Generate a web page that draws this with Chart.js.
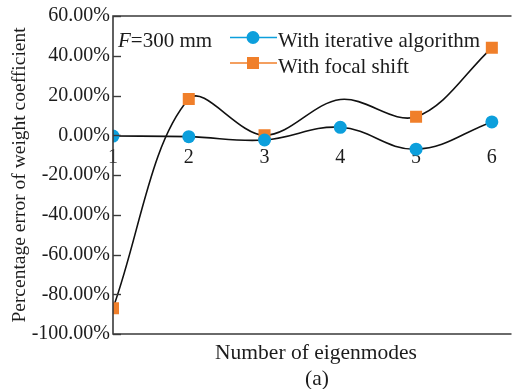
<!DOCTYPE html>
<html><head><meta charset="utf-8">
<script src="https://cdn.jsdelivr.net/npm/chart.js@4.4.0/dist/chart.umd.min.js"></script>
<style>html,body{margin:0;padding:0;background:#fff;} #wrap{width:518px;height:389px;position:relative;}</style>
</head><body><div id="wrap"><canvas id="c" width="518" height="389"></canvas></div>
<script>
// ---- data ----
const modes = [1, 2, 3, 4, 5, 6];
const xTickLabels = ['1', '2', '3', '4', '5', '6'];
const iterative = [-0.4, -0.7, -2.4, 4.0, -7.0, 6.7];
const focalShift = [-87, 18.2, 0, 18, 9.3, 44];
const focalHasMarker = [true, true, true, false, true, true];
const yTickValues = [-100, -80, -60, -40, -20, 0, 20, 40, 60];
const yTickLabels = ['-100.00%', '-80.00%', '-60.00%', '-40.00%', '-20.00%', '0.00%', '20.00%', '40.00%', '60.00%'];
const seriesNames = ['With iterative algorithm', 'With focal shift'];
const xTitle = 'Number of eigenmodes';
const yTitle = 'Percentage error of weight coefficient';
const panelLabel = '(a)';
const noteItalic = 'F';
const noteRest = '=300 mm';

const FONT = "'Liberation Serif', 'Times New Roman', serif";
const TXT = '#1c1c1c';
const BLUE = '#0c9fdc';
const ORANGE = '#f07f2a';

const deco = {
  id: 'deco',
  afterDraw(chart) {
    const ctx = chart.ctx, a = chart.chartArea, ys = chart.scales.y;
    ctx.save();
    // frame
    ctx.strokeStyle = '#3a3a3a';
    ctx.lineWidth = 1.6;
    ctx.beginPath();
    ctx.moveTo(a.right + 2, a.top); ctx.lineTo(a.left, a.top);
    ctx.lineTo(a.left, a.bottom); ctx.lineTo(a.right + 2, a.bottom);
    ctx.stroke();
    // inward y ticks
    ctx.lineWidth = 1.4;
    yTickValues.forEach(v => {
      const py = Math.round(ys.getPixelForValue(v)) + 0.5;
      ctx.beginPath(); ctx.moveTo(a.left, py); ctx.lineTo(a.left + 8, py); ctx.stroke();
    });
    // x title and panel label
    ctx.fillStyle = TXT;
    ctx.textAlign = 'center';
    ctx.textBaseline = 'alphabetic';
    ctx.font = '21.5px ' + FONT;
    ctx.fillText(xTitle, 316, 359);
    ctx.fillText(panelLabel, 317, 385);
    // note
    ctx.textAlign = 'left';
    ctx.font = 'italic 21px ' + FONT;
    ctx.fillText(noteItalic, 118, 47);
    const w = ctx.measureText(noteItalic).width;
    ctx.font = '21px ' + FONT;
    ctx.fillText(noteRest, 118 + w, 47);
    // legend
    const rows = [
      {y: 37.5, color: BLUE, shape: 'circle', text: seriesNames[0], tb: 47},
      {y: 63, color: ORANGE, shape: 'rect', text: seriesNames[1], tb: 73}
    ];
    rows.forEach(r => {
      ctx.strokeStyle = r.color; ctx.lineWidth = 1.5;
      ctx.beginPath(); ctx.moveTo(230, r.y); ctx.lineTo(277, r.y); ctx.stroke();
      ctx.fillStyle = r.color;
      if (r.shape === 'circle') { ctx.beginPath(); ctx.arc(253, r.y, 6.5, 0, Math.PI * 2); ctx.fill(); }
      else { ctx.fillRect(247, r.y - 6, 12, 12); }
      ctx.fillStyle = TXT;
      ctx.font = '21px ' + FONT;
      ctx.fillText(r.text, 278, r.tb);
    });
    ctx.restore();
  }
};

new Chart(document.getElementById('c'), {
  type: 'line',
  data: {
    datasets: [
      {
        label: seriesNames[0],
        data: modes.map((m, i) => ({x: m, y: iterative[i]})),
        borderColor: '#111', borderWidth: 1.6,
        backgroundColor: BLUE, pointBackgroundColor: BLUE,
        pointBorderWidth: 0, pointRadius: 6.5, pointStyle: 'circle',
        tension: 0.4, fill: false
      },
      {
        label: seriesNames[1],
        data: modes.map((m, i) => ({x: m, y: focalShift[i]})),
        borderColor: '#111', borderWidth: 1.6,
        backgroundColor: ORANGE, pointBackgroundColor: ORANGE,
        pointBorderWidth: 0, pointRadius: focalHasMarker.map(h => h ? 8.5 : 0), pointStyle: 'rect',
        tension: 0.35, fill: false
      }
    ]
  },
  options: {
    responsive: false, animation: false,
    layout: {padding: {left: 0, top: 16, right: 0, bottom: 55}},
    plugins: {legend: {display: false}, tooltip: {enabled: false}},
    scales: {
      x: {
        type: 'linear', min: 1, max: 6.233,
        position: {y: 0},
        grid: {display: false, drawTicks: false}, border: {display: false},
        ticks: {
          stepSize: 1, includeBounds: false, padding: 10, color: TXT,
          font: {family: FONT, size: 20},
          callback: (v) => { const i = modes.indexOf(v); return i >= 0 ? xTickLabels[i] : ''; }
        }
      },
      y: {
        min: -100, max: 60,
        grid: {display: false, drawTicks: false}, border: {display: false},
        afterFit: (s) => { s.width = 113; },
        afterBuildTicks: (s) => { s.ticks = yTickValues.map(v => ({value: v})); },
        ticks: {
          padding: 3, color: TXT, font: {family: FONT, size: 20},
          callback: (v) => { const i = yTickValues.indexOf(v); return i >= 0 ? yTickLabels[i] : ''; }
        },
        title: {display: true, text: yTitle, color: TXT, font: {family: FONT, size: 19.5}, padding: {top: 8, bottom: 0}}
      }
    }
  },
  plugins: [deco]
});
</script></body></html>
